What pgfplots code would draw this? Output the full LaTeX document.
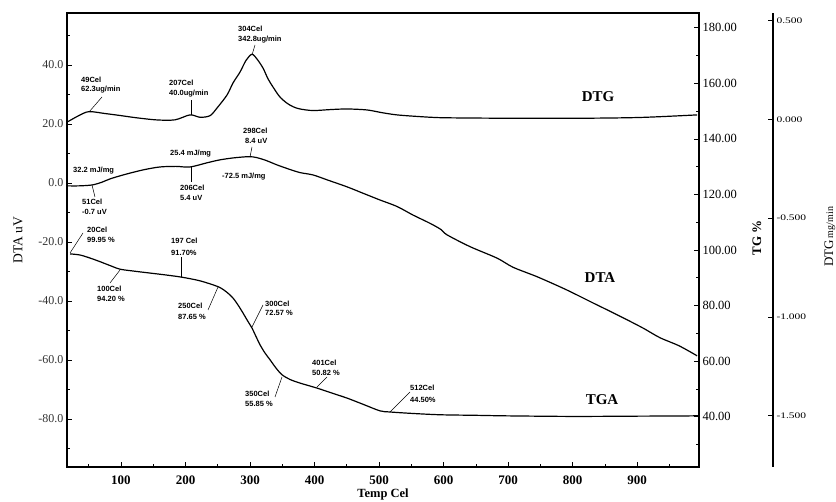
\documentclass[border=0pt]{standalone}
\usepackage{pgfplots}
\pgfplotsset{compat=1.18}
\usepackage{fontspec}
\setmainfont{Liberation Serif}
\newfontfamily\annfont{Liberation Sans}
\begin{document}
\begin{tikzpicture}
\useasboundingbox (0pt,0pt) rectangle (836pt,-502pt);
\pgfplotsset{
  base/.style={
    at={(67pt,-467pt)}, anchor=south west,
    width=632pt, height=454pt, scale only axis,
    xmin=16.3, xmax=996,
    /pgf/number format/assume math mode=true,
    tick align=inside,
    major tick length=5pt, minor tick length=3pt,
    tick style={black, line width=0.6pt},
  }
}
% ---------------- DTA (left axis) ----------------
\begin{axis}[base,
  ymin=-96.3, ymax=57.6,
  axis line style={line width=1.6pt},
  xtick={100,200,...,900},
  minor xtick={50,150,...,950},
  ytick={-80,-60,...,40},
  minor ytick={-90,-70,...,50},
  xtick pos=bottom, ytick pos=left,
  yticklabel style={font=\fontsize{12}{12}\selectfont, text=black!80,
    /pgf/number format/.cd, fixed, fixed zerofill, precision=1},
  xticklabel style={font=\bfseries\fontsize{13}{13}\selectfont, yshift=-5pt},
]
\addplot[black, line width=1.2pt, smooth, tension=0.5] coordinates {
(17.8,-1.0) (35,-1.0) (55,-0.7) (70,0.2) (83,1.36) (105,2.8) (134,4.4) (160,5.4)
(185,5.6) (207,5.4) (233,6.8) (253,7.8) (275,8.5) (298,8.9) (310,8.6)
(325,7.6) (341.9,6.1) (360,4.7) (377.5,3.5) (397.7,2.7) (420,1.0) (450,-1.3)
(475.2,-3.5) (501.6,-5.8) (528,-8.0) (552.7,-10.9) (579.1,-13.7) (596,-15.8)
(605.4,-17.6) (641,-21.6) (683,-25.5) (707.8,-28.6) (745,-31.8) (785.3,-35.7)
(808,-38.1) (831.8,-40.7) (858,-43.5) (884.5,-46.4) (910,-49.3) (935.7,-52.5)
(965,-55.2) (993,-58.6)
};
\end{axis}
% ---------------- TG (right axis) ----------------
\begin{axis}[base,
  ymin=21.9, ymax=185.3,
  axis x line=none, axis y line*=right,
  axis line style={line width=1.6pt},
  ytick={40,60,...,180},
  minor ytick={30,50,...,170},
  yticklabel style={font=\fontsize{12.5}{12.5}\selectfont,
    /pgf/number format/.cd, fixed, fixed zerofill, precision=2},
]
\addplot[black, line width=1.2pt, smooth, tension=0.5] coordinates {
(21,98.6) (36.5,98.2) (52,97.1) (67.5,95.8) (83,94.4) (98.5,93.1) (120,92.4) (145,91.7)
(170,91.0) (194.6,90.2) (222.5,88.9) (250.4,86.8) (263,85.0) (273.6,82.7) (282,80.0)
(289.2,77.3) (296,74.6) (303.1,71.9) (309,69.0) (315.5,65.9) (323,63.0) (331,60.5)
(340,57.6) (349.6,55.1) (362,53.4) (377.5,52.1) (403.9,50.3) (427,48.5) (450.4,46.7)
(476,44.4) (501.5,42.1) (517,41.7) (550,41.2) (594.6,40.7) (650,40.5) (700,40.3)
(800.8,40.1) (900,40.2) (985,40.3) (996,40.5)
};
\end{axis}
% ---------------- DTG (far right axis) ----------------
\begin{axis}[base,
  ymin=-1.76, ymax=0.539,
  axis x line=none, axis y line*=right,
  axis y line shift=74pt,
  axis line style={line width=1.8pt},
  ytick={-1.5,-1,...,0.5},
  minor ytick={},
  yticklabel={\scalebox{1.35}[1]{\fontsize{8.5}{8.5}\selectfont\pgfmathprintnumber[fixed, fixed zerofill, precision=3]{\tick}}},
]
\addplot[black, line width=1.2pt, smooth, tension=0.5] coordinates {
(17.8,-0.011) (35,0.020) (50.4,0.0395) (75,0.030) (98.5,0.020) (125,0.008) (155.8,-0.0025)
(183.7,-0.002) (207,0.023) (222.5,0.011) (238,0.019) (248.9,0.058) (264.4,0.124)
(273.7,0.185) (284.5,0.240) (294,0.300) (303.1,0.330) (311,0.305) (320,0.261)
(328,0.205) (335.7,0.164) (346,0.115) (357,0.083) (367,0.064) (377.5,0.053) (397.7,0.045)
(425,0.050) (450.4,0.053) (481.4,0.048) (505,0.034) (527.9,0.023) (560,0.015)
(594.6,0.009) (650,0.007) (707.8,0.006) (811.6,0.006) (904.7,0.010) (993,0.023)
};
\end{axis}
% ---------------- axis titles ----------------
\node[rotate=90, font=\fontsize{13.5}{13.5}\selectfont] at (18pt,-240pt) {DTA uV};
\node[rotate=90, font=\bfseries\fontsize{13}{13}\selectfont] at (757pt,-238pt) {TG \%};
\node[rotate=90] at (830pt,-237pt) {\fontsize{13}{13}\selectfont DTG\,\fontsize{10}{10}\selectfont mg/min};
\node[font=\bfseries\fontsize{12.5}{12.5}\selectfont] at (383pt,-494pt) {Temp Cel};
% ---------------- curve names ----------------
\node[font=\bfseries\fontsize{15}{15}\selectfont] at (598pt,-97pt) {DTG};
\node[font=\bfseries\fontsize{15}{15}\selectfont] at (600pt,-278pt) {DTA};
\node[font=\bfseries\fontsize{15}{15}\selectfont] at (602pt,-400pt) {TGA};
% ---------------- annotations ----------------
\begin{scope}[every node/.style={anchor=west, inner sep=0pt, font=\annfont\bfseries\fontsize{7.5}{7.5}\selectfont}]
\node at (81pt,-80pt) {49Cel};   \node at (81pt,-90pt) {62.3ug/min};
\node at (169pt,-83pt) {207Cel}; \node at (169pt,-94pt) {40.0ug/min};
\node at (238pt,-29pt) {304Cel}; \node at (238pt,-40pt) {342.8ug/min};
\node at (243pt,-131pt) {298Cel}; \node at (245pt,-141pt) {8.4 uV};
\node at (170pt,-154pt) {25.4 mJ/mg};
\node at (180pt,-188pt) {206Cel}; \node at (180pt,-198pt) {5.4 uV};
\node at (73pt,-171pt) {32.2 mJ/mg};
\node at (222pt,-177pt) {-72.5 mJ/mg};
\node at (82pt,-202pt) {51Cel};  \node at (82pt,-212pt) {-0.7 uV};
\node at (87pt,-230pt) {20Cel};  \node at (87pt,-240pt) {99.95 \%};
\node at (171pt,-241pt) {197 Cel}; \node at (171pt,-253pt) {91.70\%};
\node at (97pt,-289pt) {100Cel}; \node at (97pt,-299pt) {94.20 \%};
\node at (178pt,-306pt) {250Cel}; \node at (178pt,-317pt) {87.65 \%};
\node at (265pt,-304pt) {300Cel}; \node at (265pt,-313pt) {72.57 \%};
\node at (245pt,-394pt) {350Cel}; \node at (245pt,-404pt) {55.85 \%};
\node at (312pt,-363pt) {401Cel}; \node at (312pt,-373pt) {50.82 \%};
\node at (410pt,-388pt) {512Cel}; \node at (410pt,-400pt) {44.50\%};
\end{scope}
\begin{scope}[line width=0.5pt]
\draw (89pt,-112pt) -- (102pt,-97pt);
\draw (191pt,-115pt) -- (191pt,-100pt);
\draw (252pt,-55pt) -- (255pt,-45pt);
\draw (250pt,-157pt) -- (252pt,-147pt);
\draw (191pt,-167pt) -- (191pt,-182pt);
\draw (92pt,-185pt) -- (95pt,-197pt);
\draw (70pt,-253pt) -- (83pt,-233pt);
\draw (181pt,-277pt) -- (181pt,-257pt);
\draw (120pt,-270pt) -- (110pt,-283pt);
\draw (218pt,-287pt) -- (208pt,-310pt);
\draw (252pt,-327pt) -- (263pt,-305pt);
\draw (282pt,-377pt) -- (275pt,-397pt);
\draw (317pt,-387pt) -- (327pt,-377pt);
\draw (390pt,-412pt) -- (410pt,-392pt);
\end{scope}
\end{tikzpicture}
\end{document}
